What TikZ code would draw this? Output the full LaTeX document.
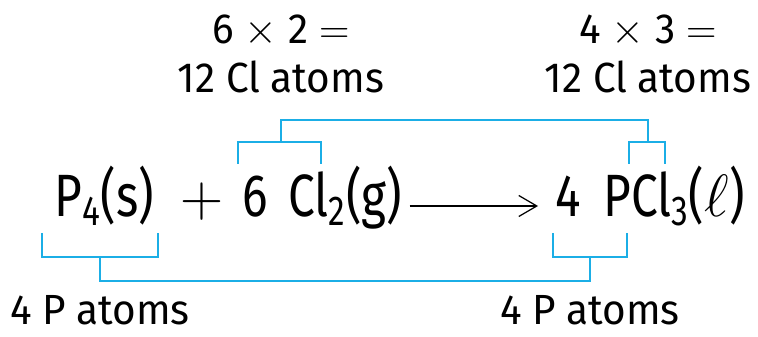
\documentclass[tikz,border=0pt]{standalone}
\usepackage{fix-cm}
\usepackage{fontspec}
\setmainfont{Fira Sans}
\newfontfamily\eqfont{Fira Sans}[FakeStretch=0.8]
\newfontfamily\cntfont{Fira Sans}[FakeStretch=0.96]
\usetikzlibrary{arrows.meta,positioning,calc}
\definecolor{atomblue}{RGB}{27, 174, 230}

\begin{document}
\begin{tikzpicture}[
      x=0.02cm, y=-0.02cm,
      species/.style={inner sep=0pt, anchor=base west, font=\fontsize{34}{40}\eqfont},
      count/.style={inner sep=0pt, anchor=base, align=center, font=\fontsize{24}{28.45}\cntfont},
      bracket/.style={draw=atomblue, line width=1.1pt},
      reaction/.style={-{Straight Barb[length=3.6mm, width=4.2mm]}, line width=0.7pt}
    ]
      \useasboundingbox (0,0) rectangle (758,337);

      % equation
      \node[species] (p4) at (54,217) {P\textsubscript{4}(s)};
      \node[species] (plus) at (180,217) {$+$};
      \node[species] (six) at (242,217) {6};
      \node[species] (cl2) at (288,217) {Cl\textsubscript{2}(g)};
      \node[species] (four) at (555,217) {4};
      \node[species] (pcl3) at (603,217) {PCl\textsubscript{3}($\ell$)};
      \draw[reaction] ([shift={(1.5mm,2.2mm)}]cl2.base east) -- ([shift={(-3.4mm,2.2mm)}]four.base west);

      % atom counts
      \node[count] (clleft) at (281,93) {6 $\times$ 2 $=$\\12 Cl atoms};
      \node[count] (clright) at (648,93) {4 $\times$ 3 $=$\\12 Cl atoms};
      \node[count] (pleft) at (100,325) {4 P atoms};
      \node[count] (pright) at (590,325) {4 P atoms};

      % chlorine brackets
      \coordinate (clA) at (238,164);
      \coordinate (clB) at (321,164);
      \coordinate (clC) at (629,164);
      \coordinate (clD) at (665,164);
      \draw[bracket] (clA) -- ++(0,-22) -| (clB);
      \draw[bracket] (clC) -- ++(0,-22) -| (clD);
      \draw[bracket] (clleft.center |- 0,142) -- ++(0,-22) -| (clright.center |- 0,142);

      % phosphorus brackets
      \coordinate (pA) at (42,233);
      \coordinate (pB) at (158,233);
      \coordinate (pC) at (553,233);
      \coordinate (pD) at (627,233);
      \draw[bracket] (pA) -- ++(0,24) -| (pB);
      \draw[bracket] (pC) -- ++(0,24) -| (pD);
      \draw[bracket] (pleft.center |- 0,257) -- ++(0,24) -| (pright.center |- 0,257);
    \end{tikzpicture}
\end{document}
